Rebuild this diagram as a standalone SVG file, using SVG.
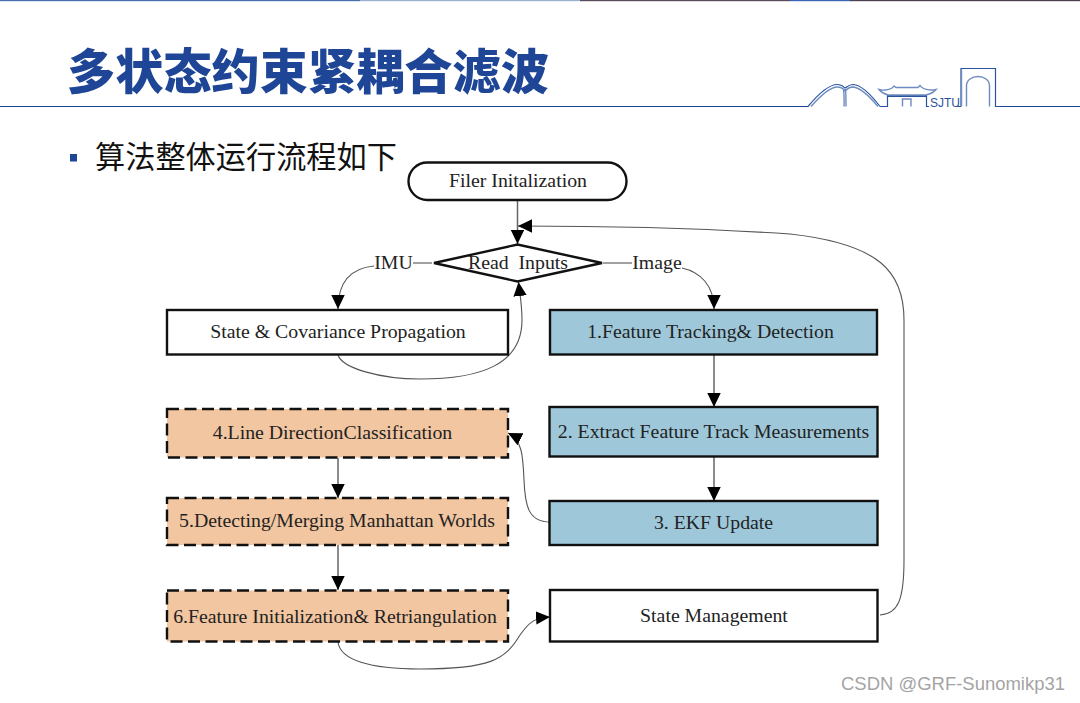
<svg xmlns="http://www.w3.org/2000/svg" width="1080" height="703" viewBox="0 0 1080 703">
  <style>
    .box { stroke: #111; stroke-width: 2.4; }
    .plain { fill: #fff; }
    .blue { fill: #9ec8da; }
    .tan { fill: #f2c6a0; stroke-dasharray: 12 5.500; }
    .lbl { font-family: "Liberation Serif", "Times New Roman", serif; font-size: 19.800px; fill: #222; text-anchor: middle; }
    .wire { fill: none; stroke: #555; stroke-width: 1.1; }
    .wire-s { fill: none; stroke: #666; stroke-width: 1.5; }
    .sky { fill: none; stroke: #2a52a0; stroke-width: 1.2; }
    .sky2 { fill: none; stroke: #6f8cc0; stroke-width: 1.4; }
  </style>
  <defs>
    <marker id="tip" markerUnits="userSpaceOnUse" markerWidth="15" markerHeight="15" refX="14" refY="7.500" orient="auto">
      <path d="M0 0.800L14 7.500L0 14.200Z" fill="#000"/>
    </marker>
  </defs>
  <rect width="1080" height="703" fill="#fff"/>

  <!-- top edge band -->
  <rect x="0" y="0" width="360" height="1.200" fill="#4a6fae"/>
  <rect x="360" y="0" width="220" height="1.200" fill="#9db2cf"/>
  <rect x="580" y="0" width="210" height="1.200" fill="#5a4a5e"/>
  <rect x="790" y="0" width="60" height="1.200" fill="#3a66b8"/>
  <rect x="850" y="0" width="230" height="1.200" fill="#4a4050"/>

  <!-- heading -->
  <text x="67" y="89" font-family="'Noto Sans CJK SC', sans-serif" font-weight="900" font-size="48.200" fill="#1f4696">多状态约束紧耦合滤波</text>
  <path d="M0 106.500H808M996 106.500H1080" stroke="#1f4696" stroke-width="1.200" fill="none"/>

  <!-- campus skyline emblem -->
  <g id="skyline">
    <path class="sky" d="M808 106.500C820 92 830 84 838 84.500C843 85 844 87 845 88C847 87 849 84.500 853 84.500C862 85 872 96 880 106.500"/>
    <path class="sky2" d="M811 106.500C822 94 831 86.500 838 87C842 87.500 844 89 845 91C847 89 849 87 853 87C860 87.500 870 97 878 106.500"/>
    <path class="sky2" d="M843.500 89C844 95 844.500 100 844 106.500M845.500 89C846 95 846 100 846 106.500"/>
    <path class="sky" d="M880 106.500H887.500V96H926.500V106.500H929"/>
    <path d="M887 96H927" stroke="#2a52a0" stroke-width="2" fill="none"/>
    <path class="sky2" d="M879 89.500C884 91 892 89.500 894 86L896 87.500H918L920 85.500C922 89 930 91 936 89.500C934 92 930 94 926 95H888C884 94 881 92 879 89.500Z"/>
    <path class="sky2" d="M902.500 106.500V99H911V106.500"/>
    <text x="930" y="106.500" font-family="'Liberation Sans', sans-serif" font-size="12" fill="#2a52a0" textLength="30" lengthAdjust="spacingAndGlyphs">SJTU</text>
    <path class="sky" d="M961 106.500V68.500H995.500V106.500H1000M961 106.500H956"/>
    <path class="sky2" d="M961.500 69V106"/>
    <path class="sky2" d="M966.500 106.500V86C966.500 80 972 76.500 978 76.500C984 76.500 989.500 80 989.500 86V106.500"/>
  </g>

  <!-- bullet line -->
  <rect x="70" y="154" width="7" height="7.500" fill="#1f4696"/>
  <text x="95" y="168" font-family="'Noto Sans CJK SC', sans-serif" font-size="30.200" fill="#111">算法整体运行流程如下</text>

  <!-- connectors -->
  <g id="connectors">
    <path class="wire-s" d="M517.500 200V244" marker-end="url(#tip)"/>
    <path class="wire" d="M880 615C898 614 904 600 904 560V320C904 272 880 244 790 234C700 228 600 226 518 226" marker-end="url(#tip)"/>
    <path class="wire" d="M432 263H413"/>
    <path class="wire" d="M374 266C352 268 338 280 338 309" marker-end="url(#tip)"/>
    <path class="wire" d="M603 263H632"/>
    <path class="wire" d="M682 268C700 272 714 285 714 309" marker-end="url(#tip)"/>
    <path class="wire" d="M338 355C342 368 380 379 420 379C480 379 522 365 522 320C522 305 520 295 518.500 282" marker-end="url(#tip)"/>
    <path class="wire-s" d="M714 355V407" marker-end="url(#tip)"/>
    <path class="wire-s" d="M714 457V501" marker-end="url(#tip)"/>
    <path class="wire" d="M550 522C528 522 525 505 524 480C523 455 522 440 508 433" marker-end="url(#tip)"/>
    <path class="wire-s" d="M338 458V498" marker-end="url(#tip)"/>
    <path class="wire-s" d="M338 545V590" marker-end="url(#tip)"/>
    <path class="wire" d="M338 642C340 660 370 669 420 669C490 669 505 660 520 635C530 621 535 618 550 617" marker-end="url(#tip)"/>
  </g>

  <g id="node-init">
    <rect class="box plain" x="408.500" y="162.500" width="218" height="37.500" rx="18.700"/>
    <text class="lbl" x="518" y="187">Filer Initalization</text>
  </g>
  <g id="node-read">
    <path class="box plain" d="M434 263L517.500 244.500L602 263L517.500 281.500Z"/>
    <text class="lbl" x="518" y="269" xml:space="preserve">Read  Inputs</text>
  </g>
  <g id="label-imu"><text class="lbl" x="393.500" y="269">IMU</text></g>
  <g id="label-image"><text class="lbl" x="657" y="269">Image</text></g>
  <g id="node-propagation">
    <rect class="box plain" x="167" y="310" width="341" height="44.500"/>
    <text class="lbl" x="338" y="338">State &amp; Covariance Propagation</text>
  </g>
  <g id="node-tracking">
    <rect class="box blue" x="550" y="310" width="327" height="44.500"/>
    <text class="lbl" x="710.500" y="338">1.Feature Tracking&amp; Detection</text>
  </g>
  <g id="node-measurements">
    <rect class="box blue" x="549.500" y="407" width="328" height="49.500"/>
    <text class="lbl" x="713.500" y="438">2. Extract Feature Track Measurements</text>
  </g>
  <g id="node-ekf">
    <rect class="box blue" x="549.500" y="501" width="328" height="44"/>
    <text class="lbl" x="713.500" y="529">3. EKF Update</text>
  </g>
  <g id="node-management">
    <rect class="box plain" x="550" y="590" width="327.500" height="51.500"/>
    <text class="lbl" x="714" y="622">State Management</text>
  </g>
  <g id="node-classification">
    <rect class="box tan" x="167" y="409" width="341" height="48.500"/>
    <text class="lbl" x="332.500" y="439">4.Line DirectionClassification</text>
  </g>
  <g id="node-manhattan">
    <rect class="box tan" x="167" y="498" width="341" height="47"/>
    <text class="lbl" x="337" y="527">5.Detecting/Merging Manhattan Worlds</text>
  </g>
  <g id="node-retriangulation">
    <rect class="box tan" x="167" y="590.500" width="341" height="51"/>
    <text class="lbl" x="335" y="623">6.Feature Initialization&amp; Retriangulation</text>
  </g>

  <!-- attribution -->
  <text x="841" y="690" font-family="'Liberation Sans', sans-serif" font-size="18" fill="#a4a4a4" textLength="224" lengthAdjust="spacingAndGlyphs">CSDN @GRF-Sunomikp31</text>
</svg>
